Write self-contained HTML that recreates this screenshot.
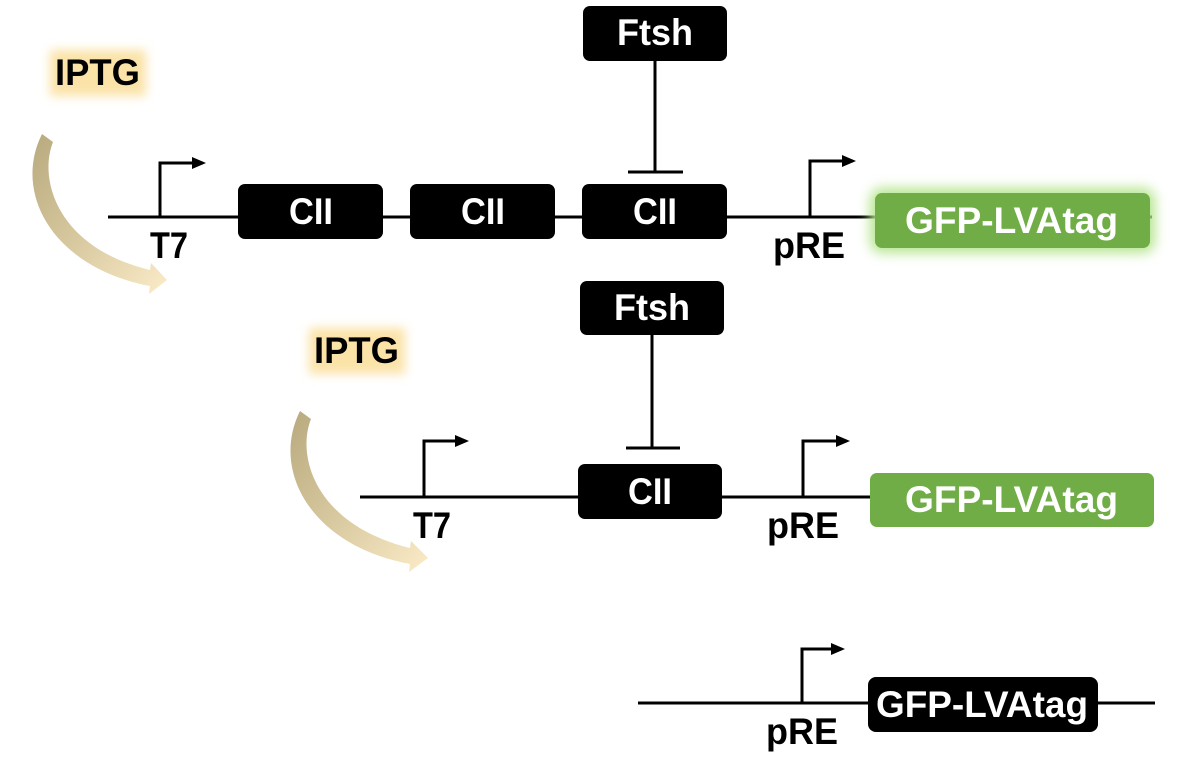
<!DOCTYPE html>
<html><head><meta charset="utf-8"><style>
html,body{margin:0;padding:0;background:#fff;width:1179px;height:757px;overflow:hidden}
text{font-family:"Liberation Sans",Arial,sans-serif;font-weight:bold}
</style></head><body>
<svg width="1179" height="757" viewBox="0 0 1179 757" xmlns="http://www.w3.org/2000/svg">
<defs>
<marker id="ah" markerWidth="14" markerHeight="14" refX="11" refY="7" orient="auto" markerUnits="userSpaceOnUse"><path d="M0,1 L14,7 L0,13 Z" fill="#000"/></marker>
<linearGradient id="cg" x1="0" y1="0" x2="1" y2="1"><stop offset="0" stop-color="#b9a97e"/><stop offset="0.5" stop-color="#d8c9a0"/><stop offset="1" stop-color="#fbecc8"/></linearGradient>
<filter id="glow" x="-20%" y="-40%" width="140%" height="180%"><feGaussianBlur stdDeviation="6"/></filter>
<filter id="sglow" x="-30%" y="-50%" width="160%" height="200%"><feGaussianBlur stdDeviation="5"/></filter>
</defs>
<g stroke="#000" stroke-width="3" fill="none">
<line x1="108" y1="217" x2="1152" y2="217"/>
<path d="M160,217 V163 H203" marker-end="url(#ah)"/>
<path d="M810,217 V161 H853" marker-end="url(#ah)"/>
<line x1="655" y1="60" x2="655" y2="172"/>
<line x1="628" y1="172" x2="683" y2="172"/>
<line x1="360" y1="497" x2="872" y2="497"/>
<path d="M424,497 V441 H466" marker-end="url(#ah)"/>
<path d="M803,497 V441 H847" marker-end="url(#ah)"/>
<line x1="652" y1="334" x2="652" y2="448"/>
<line x1="626" y1="448" x2="680" y2="448"/>
<line x1="638" y1="703" x2="1155" y2="703"/>
<path d="M802,703 V649 H842" marker-end="url(#ah)"/>
</g>
<rect x="50" y="50" width="96" height="46" fill="#fbe3a8" filter="url(#sglow)"/>
<rect x="309" y="328" width="96" height="46" fill="#fbe3a8" filter="url(#sglow)"/>
<text x="55" y="85" font-size="37" textLength="85" lengthAdjust="spacingAndGlyphs">IPTG</text>
<text x="314" y="363" font-size="37" textLength="85" lengthAdjust="spacingAndGlyphs">IPTG</text>
<path d="M42,134 L53,142 C38,180 58,248 150,270 L151,263 L167,280 L149,294 L150,286 C54,268 12,194 42,134 Z" fill="url(#cg)"/>
<path d="M300,411 L311,419 C296,457 316,525 410,548 L411,541 L428,558 L409,572 L410,564 C312,546 270,471 300,411 Z" fill="url(#cg)"/>
<g fill="#000">
<rect x="238" y="184" width="145" height="55" rx="7"/>
<rect x="410" y="184" width="145" height="55" rx="7"/>
<rect x="582" y="184" width="145" height="55" rx="7"/>
<rect x="583" y="6" width="144" height="55" rx="7"/>
<rect x="578" y="464" width="144" height="55" rx="7"/>
<rect x="580" y="281" width="144" height="54" rx="7"/>
<rect x="868" y="677" width="230" height="55" rx="8"/>
</g>
<rect x="870" y="188" width="285" height="65" rx="12" fill="#b6e58f" filter="url(#glow)"/>
<rect x="875" y="193" width="275" height="55" rx="7" fill="#70ad47"/>
<rect x="870" y="473" width="284" height="54" rx="7" fill="#70ad47"/>
<g fill="#fff" font-size="37">
<text x="289" y="224" textLength="44" lengthAdjust="spacingAndGlyphs">CII</text>
<text x="461" y="224" textLength="44" lengthAdjust="spacingAndGlyphs">CII</text>
<text x="633" y="224" textLength="44" lengthAdjust="spacingAndGlyphs">CII</text>
<text x="617" y="45" textLength="76" lengthAdjust="spacingAndGlyphs">Ftsh</text>
<text x="614" y="320" textLength="76" lengthAdjust="spacingAndGlyphs">Ftsh</text>
<text x="628" y="504" textLength="44" lengthAdjust="spacingAndGlyphs">CII</text>
<text x="905" y="233" textLength="213" lengthAdjust="spacingAndGlyphs">GFP-LVAtag</text>
<text x="905" y="512" textLength="213" lengthAdjust="spacingAndGlyphs">GFP-LVAtag</text>
<text x="876" y="717" textLength="212" lengthAdjust="spacingAndGlyphs">GFP-LVAtag</text>
</g>
<g fill="#000" font-size="37">
<text x="150" y="258" textLength="38" lengthAdjust="spacingAndGlyphs">T7</text>
<text x="773" y="258" textLength="72" lengthAdjust="spacingAndGlyphs">pRE</text>
<text x="413" y="538" textLength="38" lengthAdjust="spacingAndGlyphs">T7</text>
<text x="767" y="538" textLength="72" lengthAdjust="spacingAndGlyphs">pRE</text>
<text x="766" y="744" textLength="72" lengthAdjust="spacingAndGlyphs">pRE</text>
</g>
</svg>
</body></html>
